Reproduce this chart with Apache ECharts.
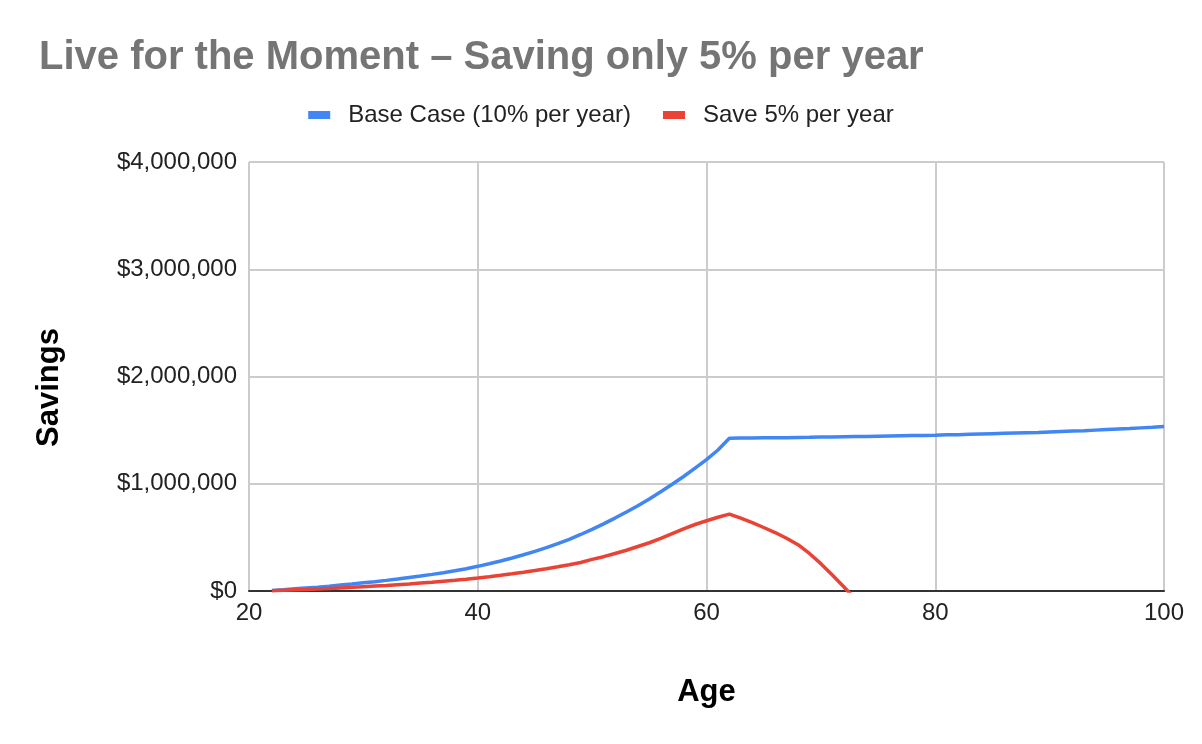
<!DOCTYPE html>
<html>
<head>
<meta charset="utf-8">
<script src="https://cdn.jsdelivr.net/npm/echarts@6/dist/echarts.min.js"></script>
<style>
  html, body { margin: 0; padding: 0; background: #fff; }
  #chart { width: 1202px; height: 744px; }
</style>
</head>
<body>
<div id="chart"></div>
<script>
// ages 22..100, one point per year
var ages = [];
for (var a = 22; a <= 100; a++) ages.push(a);

// Base Case (10% per year), dollars
var baseCase = [
  5000, 12000, 20000, 28000, 36000, 45000, 55000, 65000, 76000, 87000,
  99000, 112000, 126000, 140000, 155000, 171000, 188000, 208000, 230000, 254000,
  280000, 308000, 338000, 370000, 404000, 441000, 482000, 527000, 575000, 626000,
  680000, 736000, 795000, 858000, 925000, 995000, 1068000, 1145000, 1225000, 1315000,
  1425000, 1426000, 1427000, 1428000, 1429000, 1430000, 1432000, 1433000, 1435000, 1436000,
  1438000, 1440000, 1441000, 1443000, 1445000, 1447000, 1449000, 1451000, 1453000, 1456000,
  1458000, 1461000, 1464000, 1467000, 1470000, 1473000, 1476000, 1479000, 1483000, 1487000,
  1491000, 1495000, 1500000, 1505000, 1510000, 1515000, 1521000, 1527000, 1534000
];

// Save 5% per year, dollars (runs out just after 72)
var save5 = [
  3000, 7000, 11000, 15000, 19000, 24000, 29000, 34000, 40000, 46000,
  52000, 59000, 66000, 74000, 82000, 91000, 100000, 110000, 121000, 133000,
  146000, 160000, 175000, 191000, 208000, 226000, 245000, 266000, 295000, 320000,
  350000, 380000, 415000, 450000, 490000, 535000, 580000, 620000, 655000, 688000,
  717000, 680000, 638000, 592000, 545000, 492000, 432000, 350000, 255000, 150000,
  40000, -75000
];

var yTicks = [0, 1000000, 2000000, 3000000, 4000000];

function pairs(xs, ys) {
  return ys.map(function (v, i) { return [xs[i], v]; });
}

var chart = echarts.init(document.getElementById('chart'));
var font = 'Arial, "Liberation Sans", sans-serif';

chart.setOption({
  animation: false,
  textStyle: { fontFamily: font },
  color: ['#4285F4', '#EA4335'],
  title: {
    text: 'Live for the Moment \u2013 Saving only 5% per year',
    left: 34,
    top: 33,
    textStyle: { fontSize: 40, fontWeight: 'bold', color: '#757575', fontFamily: font }
  },
  legend: {
    top: 98,
    left: 'center',
    itemWidth: 22,
    itemHeight: 8,
    itemGap: 32,
    icon: 'rect',
    textStyle: { fontSize: 24, color: '#222', fontFamily: font, padding: [0, 0, 0, 13] },
    data: ['Base Case (10% per year)', 'Save 5% per year']
  },
  grid: { left: 249, right: 38, top: 162, bottom: 153 },
  xAxis: {
    type: 'value',
    min: 20,
    max: 100,
    interval: 20,
    name: 'Age',
    nameLocation: 'middle',
    nameGap: 86,
    nameTextStyle: { fontSize: 31, fontWeight: 'bold', color: '#000', fontFamily: font },
    axisLine: { show: true, onZero: false, lineStyle: { color: '#333', width: 2 } },
    axisTick: { show: false },
    axisLabel: { fontSize: 24, color: '#222', margin: 10, fontFamily: font },
    splitLine: { show: true, lineStyle: { color: '#ccc', width: 2 } }
  },
  yAxis: {
    type: 'value',
    min: yTicks[0],
    max: yTicks[yTicks.length - 1],
    interval: 1000000,
    name: 'Savings',
    nameLocation: 'middle',
    nameGap: 184,
    nameTextStyle: { fontSize: 31, fontWeight: 'bold', color: '#000', fontFamily: font, padding: [0, 22, 0, 0] },
    axisLine: { show: false },
    axisTick: { show: false },
    axisLabel: {
      fontSize: 24, color: '#222', margin: 12, fontFamily: font,
      formatter: function (v) { return '$' + v.toLocaleString('en-US'); }
    },
    splitLine: { show: true, lineStyle: { color: '#ccc', width: 2 } }
  },
  series: [
    {
      name: 'Base Case (10% per year)',
      type: 'line',
      data: pairs(ages, baseCase),
      showSymbol: false,
      symbol: 'none',
      lineStyle: { width: 3.5 },
      z: 3
    },
    {
      name: 'Save 5% per year',
      type: 'line',
      data: pairs(ages, save5),
      showSymbol: false,
      symbol: 'none',
      clip: true,
      lineStyle: { width: 3.5 },
      z: 4
    }
  ]
});
</script>
</body>
</html>
